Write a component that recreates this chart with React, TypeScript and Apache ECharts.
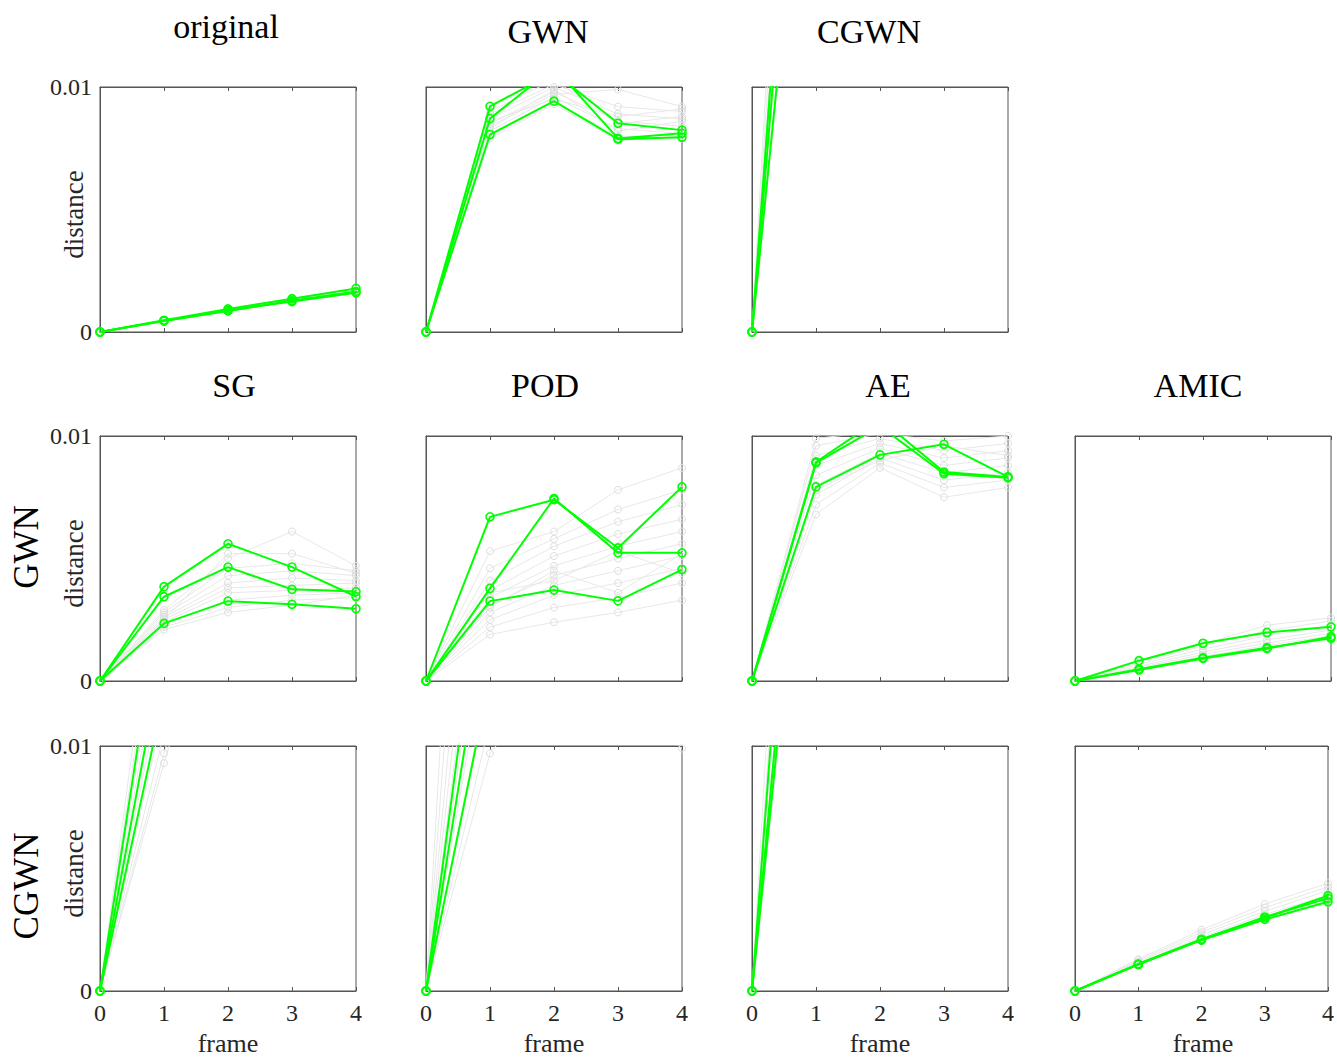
import React, { useEffect, useRef } from "react";
import * as echarts from "echarts";

// frame index on the x axis
const frames = [0, 1, 2, 3, 4];
const xTickLabels = ["0", "1", "2", "3", "4"];
const yTickLabels = ["0", "0.01"];
const yMax = 0.01;

// row 0: no post-processing
const originalGray = [
  [0, 0.00047, 0.0009, 0.0013, 0.0017],
  [0, 0.00046, 0.00092, 0.00133, 0.00172],
  [0, 0.00045, 0.00087, 0.00126, 0.00162],
];
const originalGreen = [
  [0, 0.00048, 0.00094, 0.00136, 0.00178],
  [0, 0.00046, 0.00088, 0.00124, 0.0016],
  [0, 0.00045, 0.00086, 0.00128, 0.00165],
];

const gwnGray = [
  [0, 0.008, 0.0094, 0.008, 0.0079],
  [0, 0.0082, 0.0096, 0.0083, 0.0081],
  [0, 0.0085, 0.0098, 0.0086, 0.0084],
  [0, 0.0087, 0.01, 0.0089, 0.0087],
  [0, 0.0089, 0.0101, 0.0092, 0.009],
  [0, 0.0079, 0.0093, 0.0078, 0.008],
  [0, 0.0084, 0.0097, 0.0099, 0.0092],
  [0, 0.009, 0.0103, 0.0085, 0.0088],
  [0, 0.0083, 0.0099, 0.0082, 0.0086],
  [0, 0.0086, 0.0095, 0.0088, 0.0091],
];
const gwnGreen = [
  [0, 0.00921, 0.0106, 0.00852, 0.00824],
  [0, 0.00871, 0.0108, 0.0079, 0.00811],
  [0, 0.00806, 0.00942, 0.00787, 0.00795],
];

const cgwnGray = [
  [0, 0.046, 0.07, 0.085, 0.095],
  [0, 0.041, 0.062, 0.078, 0.088],
  [0, 0.037, 0.056, 0.07, 0.08],
  [0, 0.033, 0.05, 0.062, 0.072],
  [0, 0.029, 0.044, 0.055, 0.064],
  [0, 0.025, 0.039, 0.049, 0.057],
];
const cgwnGreen = [
  [0, 0.035, 0.05, 0.06, 0.065],
  [0, 0.031, 0.046, 0.055, 0.06],
  [0, 0.026, 0.04, 0.05, 0.055],
];

// row 1: GWN noise, denoised
const gwnSgGray = [
  [0, 0.0022, 0.003, 0.0033, 0.0034],
  [0, 0.0023, 0.0033, 0.0035, 0.0036],
  [0, 0.0024, 0.0036, 0.0037, 0.0038],
  [0, 0.0025, 0.0038, 0.0039, 0.004],
  [0, 0.0026, 0.004, 0.0042, 0.0041],
  [0, 0.0027, 0.0043, 0.0045, 0.0043],
  [0, 0.0028, 0.0046, 0.0048, 0.0045],
  [0, 0.0029, 0.005, 0.0061, 0.0047],
  [0, 0.0021, 0.0028, 0.0031, 0.0035],
  [0, 0.0025, 0.0052, 0.0052, 0.0044],
];
const gwnSgGreen = [
  [0, 0.00385, 0.0056, 0.00465, 0.00345],
  [0, 0.00344, 0.00465, 0.00374, 0.00365],
  [0, 0.00235, 0.00326, 0.00313, 0.00295],
];

const gwnPodGray = [
  [0, 0.0019, 0.0024, 0.0028, 0.0033],
  [0, 0.0022, 0.003, 0.0034, 0.004],
  [0, 0.0025, 0.0035, 0.004, 0.0046],
  [0, 0.0028, 0.0039, 0.0045, 0.0051],
  [0, 0.0031, 0.0043, 0.005, 0.0056],
  [0, 0.0034, 0.0047, 0.0055, 0.0061],
  [0, 0.0037, 0.0051, 0.006, 0.0066],
  [0, 0.0041, 0.0055, 0.0065, 0.0072],
  [0, 0.0046, 0.0058, 0.007, 0.0078],
  [0, 0.0053, 0.0061, 0.0078, 0.0087],
  [0, 0.003, 0.0045, 0.0036, 0.0052],
  [0, 0.0036, 0.0041, 0.0053, 0.0044],
];
const gwnPodGreen = [
  [0, 0.0067, 0.0074, 0.00543, 0.00792],
  [0, 0.00378, 0.00745, 0.00523, 0.00523],
  [0, 0.00326, 0.00371, 0.00327, 0.00455],
];

const gwnAeGray = [
  [0, 0.0068, 0.0087, 0.0075, 0.0079],
  [0, 0.0072, 0.0089, 0.0079, 0.0082],
  [0, 0.0076, 0.0091, 0.0082, 0.0085],
  [0, 0.008, 0.0093, 0.0085, 0.0088],
  [0, 0.0084, 0.0095, 0.0088, 0.0091],
  [0, 0.0088, 0.0097, 0.0091, 0.0094],
  [0, 0.0092, 0.0099, 0.0094, 0.0097],
  [0, 0.0096, 0.0101, 0.0098, 0.01],
  [0, 0.0099, 0.0102, 0.0101, 0.0101],
  [0, 0.0078, 0.009, 0.0096, 0.0092],
];
const gwnAeGreen = [
  [0, 0.00894, 0.0107, 0.00853, 0.00833],
  [0, 0.0089, 0.0104, 0.00846, 0.0083],
  [0, 0.00792, 0.00923, 0.00966, 0.00833],
];

const gwnAmicGray = [
  [0, 0.0005, 0.001, 0.00145, 0.00185],
  [0, 0.00055, 0.00108, 0.00155, 0.00195],
  [0, 0.0006, 0.00118, 0.00168, 0.00208],
  [0, 0.00068, 0.0013, 0.00185, 0.00225],
  [0, 0.00075, 0.00142, 0.00205, 0.00245],
  [0, 0.0008, 0.0015, 0.00228, 0.00258],
];
const gwnAmicGreen = [
  [0, 0.00083, 0.00154, 0.00198, 0.00221],
  [0, 0.00048, 0.00095, 0.00136, 0.00174],
  [0, 0.00045, 0.00092, 0.00132, 0.00181],
];

// row 2: CGWN noise, denoised
const cgwnSgGray = [
  [0, 0.0195, 0.035, 0.048, 0.058],
  [0, 0.018, 0.032, 0.044, 0.054],
  [0, 0.016, 0.029, 0.04, 0.05],
  [0, 0.015, 0.027, 0.037, 0.046],
  [0, 0.013, 0.024, 0.034, 0.042],
  [0, 0.0115, 0.022, 0.031, 0.039],
  [0, 0.0105, 0.02, 0.029, 0.036],
  [0, 0.0097, 0.019, 0.027, 0.034],
  [0, 0.0093, 0.018, 0.026, 0.033],
];
const cgwnSgGreen = [
  [0, 0.0169, 0.03, 0.041, 0.05],
  [0, 0.0141, 0.026, 0.036, 0.045],
  [0, 0.0121, 0.023, 0.032, 0.04],
];

const cgwnPodGray = [
  [0, 0.045, 0.06, 0.07, 0.078],
  [0, 0.035, 0.05, 0.06, 0.068],
  [0, 0.028, 0.042, 0.052, 0.06],
  [0, 0.024, 0.036, 0.046, 0.054],
  [0, 0.021, 0.032, 0.041, 0.048],
  [0, 0.018, 0.028, 0.036, 0.043],
  [0, 0.015, 0.024, 0.032, 0.038],
  [0, 0.013, 0.021, 0.028, 0.034],
  [0, 0.011, 0.019, 0.025, 0.03],
  [0, 0.0097, 0.013, 0.012, 0.0099],
];
const cgwnPodGreen = [
  [0, 0.0196, 0.031, 0.04, 0.047],
  [0, 0.0164, 0.027, 0.035, 0.042],
  [0, 0.0128, 0.022, 0.029, 0.035],
];

const cgwnAeGray = [
  [0, 0.045, 0.07, 0.085, 0.095],
  [0, 0.038, 0.06, 0.075, 0.085],
  [0, 0.032, 0.052, 0.066, 0.076],
  [0, 0.027, 0.045, 0.058, 0.068],
  [0, 0.024, 0.04, 0.052, 0.062],
];
const cgwnAeGreen = [
  [0, 0.0345, 0.055, 0.07, 0.08],
  [0, 0.028, 0.047, 0.06, 0.07],
  [0, 0.0255, 0.043, 0.056, 0.066],
];

const cgwnAmicGray = [
  [0, 0.0011, 0.00212, 0.003, 0.0037],
  [0, 0.00115, 0.0022, 0.00312, 0.0039],
  [0, 0.0012, 0.0023, 0.00325, 0.0041],
  [0, 0.00125, 0.0024, 0.0034, 0.00425],
  [0, 0.0013, 0.0025, 0.00355, 0.0044],
  [0, 0.00107, 0.00205, 0.0029, 0.00358],
];
const cgwnAmicGreen = [
  [0, 0.0011, 0.00211, 0.00299, 0.00389],
  [0, 0.00108, 0.00208, 0.00292, 0.00364],
  [0, 0.00109, 0.0021, 0.00302, 0.00378],
];

const panels = [
  { row: 0, col: 0, gray: originalGray, green: originalGreen },
  { row: 0, col: 1, gray: gwnGray, green: gwnGreen },
  { row: 0, col: 2, gray: cgwnGray, green: cgwnGreen },
  { row: 1, col: 0, gray: gwnSgGray, green: gwnSgGreen },
  { row: 1, col: 1, gray: gwnPodGray, green: gwnPodGreen },
  { row: 1, col: 2, gray: gwnAeGray, green: gwnAeGreen },
  { row: 1, col: 3, gray: gwnAmicGray, green: gwnAmicGreen },
  { row: 2, col: 0, gray: cgwnSgGray, green: cgwnSgGreen },
  { row: 2, col: 1, gray: cgwnPodGray, green: cgwnPodGreen },
  { row: 2, col: 2, gray: cgwnAeGray, green: cgwnAeGreen },
  { row: 2, col: 3, gray: cgwnAmicGray, green: cgwnAmicGreen },
];

const panelTitles = [
  { text: "original", x: 226, y: 26 },
  { text: "GWN", x: 548, y: 31 },
  { text: "CGWN", x: 869, y: 31 },
  { text: "SG", x: 234, y: 385 },
  { text: "POD", x: 545, y: 385 },
  { text: "AE", x: 888, y: 385 },
  { text: "AMIC", x: 1198, y: 385 },
];
const rowLabels = [
  { text: "GWN", x: 26, y: 547 },
  { text: "CGWN", x: 26, y: 886 },
];

const colLeft = [100, 426, 752, 1075];
const rowTop = [87, 436, 746];
const plotW = 256;
const plotH = 245;

const FONT = "'Liberation Serif', 'Times New Roman', serif";
const AXIS = "#555555";
const TEXT = "#262626";
const GREEN = "#00ff00";

function buildOption() {
  const grid: any[] = [];
  const xAxis: any[] = [];
  const yAxis: any[] = [];
  const series: any[] = [];
  const graphic: any[] = [];

  panels.forEach((p, i) => {
    grid.push({
      left: colLeft[p.col],
      top: rowTop[p.row],
      width: plotW,
      height: plotH,
      show: true,
      borderColor: AXIS,
      borderWidth: 1,
    });
    const tick = { show: true, inside: true, length: 4, lineStyle: { color: AXIS, width: 1 } };
    const bottomLabels = p.row === 2;
    xAxis.push({
      gridIndex: i,
      type: "value",
      min: 0,
      max: 4,
      interval: 1,
      position: "bottom",
      axisLine: { show: true, lineStyle: { color: AXIS, width: 1 } },
      axisTick: tick,
      splitLine: { show: false },
      axisLabel: {
        show: bottomLabels,
        fontFamily: FONT,
        fontSize: 24,
        color: TEXT,
        margin: 10,
        formatter: (v: number) => xTickLabels[Math.round(v)] ?? "",
      },
    });
    xAxis.push({
      gridIndex: i,
      type: "value",
      min: 0,
      max: 4,
      interval: 1,
      position: "top",
      axisLine: { show: true, lineStyle: { color: AXIS, width: 1 } },
      axisTick: tick,
      splitLine: { show: false },
      axisLabel: { show: false },
    });
    yAxis.push({
      gridIndex: i,
      type: "value",
      min: 0,
      max: yMax,
      interval: yMax,
      axisLine: { show: true, lineStyle: { color: AXIS, width: 1 } },
      axisTick: { show: false },
      splitLine: { show: false },
      axisLabel: {
        show: p.col === 0,
        fontFamily: FONT,
        fontSize: 24,
        color: TEXT,
        margin: 8,
        formatter: (v: number) => (v === 0 ? yTickLabels[0] : yTickLabels[1]),
      },
    });

    p.gray.forEach((vals) => {
      series.push({
        type: "line",
        xAxisIndex: 2 * i,
        yAxisIndex: i,
        data: frames.map((f, k) => [f, vals[k]]),
        symbol: "circle",
        symbolSize: 7,
        silent: true,
        z: 2,
        lineStyle: { color: "#e8e8e8", width: 1 },
        itemStyle: { color: "rgba(0,0,0,0)", borderColor: "#dedede", borderWidth: 1 },
      });
    });
    p.green.forEach((vals) => {
      series.push({
        type: "line",
        xAxisIndex: 2 * i,
        yAxisIndex: i,
        data: frames.map((f, k) => [f, vals[k]]),
        symbol: "circle",
        symbolSize: 8,
        silent: true,
        z: 4,
        lineStyle: { color: GREEN, width: 2 },
        itemStyle: { color: "rgba(0,0,0,0)", borderColor: GREEN, borderWidth: 1.6 },
      });
    });

    // axis names
    if (p.col === 0) {
      graphic.push({
        type: "text",
        x: 74,
        y: rowTop[p.row] + plotH / 2 + 5,
        rotation: Math.PI / 2,
        style: {
          text: "distance",
          font: `27px ${FONT}`,
          fill: TEXT,
          align: "center",
          verticalAlign: "middle",
        },
      });
    }
    if (p.row === 2) {
      graphic.push({
        type: "text",
        x: colLeft[p.col] + plotW / 2,
        y: 1043,
        style: {
          text: "frame",
          font: `26px ${FONT}`,
          fill: TEXT,
          align: "center",
          verticalAlign: "middle",
        },
      });
    }
  });

  panelTitles.forEach((t) => {
    graphic.push({
      type: "text",
      x: t.x,
      y: t.y,
      style: { text: t.text, font: `34px ${FONT}`, fill: "#000", align: "center", verticalAlign: "middle" },
    });
  });
  rowLabels.forEach((t) => {
    graphic.push({
      type: "text",
      x: t.x,
      y: t.y,
      rotation: Math.PI / 2,
      style: { text: t.text, font: `35px ${FONT}`, fill: "#000", align: "center", verticalAlign: "middle" },
    });
  });

  return {
    animation: false,
    backgroundColor: "#ffffff",
    textStyle: { fontFamily: FONT },
    grid,
    xAxis,
    yAxis,
    series,
    graphic,
  };
}

export default function App() {
  const ref = useRef<HTMLDivElement>(null);
  useEffect(() => {
    document.body.style.margin = "0";
    if (!ref.current) return;
    const chart = echarts.init(ref.current, undefined, { renderer: "svg" });
    chart.setOption(buildOption());
    return () => chart.dispose();
  }, []);
  return <div ref={ref} style={{ width: 1337, height: 1058 }} />;
}
